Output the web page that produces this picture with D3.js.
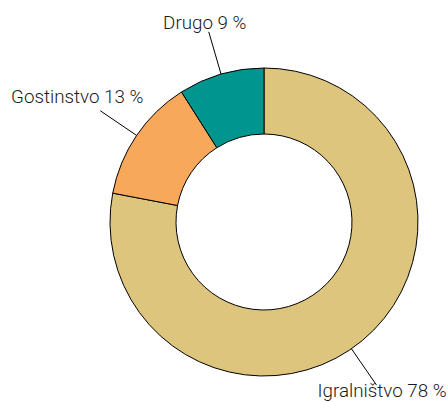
<!DOCTYPE html>
<html><head><meta charset="utf-8">
<script src="https://cdn.jsdelivr.net/npm/d3@7"></script>
<style>
html,body{margin:0;padding:0;background:#fff;}
svg{display:block;}
text{font-family:Roboto,"Liberation Sans",sans-serif;font-weight:300;font-size:18.8px;fill:#1a1a1a;}
</style></head>
<body>
<script>
const categories = ["Igralništvo", "Gostinstvo", "Drugo"];
const values = [78, 13, 9];
const colors = ["#DEC57E", "#F7A85A", "#009690"];
// label placement (style): leader angle offset (deg), label center offset from leader end
const labelAngleOffset = [5, 0, 0];
const labelDx = [5.6, -23, -4];
const labelDy = [12, -7.4, -3];

const W = 448, H = 402;
const cx = 264, cy = 222, rOuter = 154, rInner = 88, rLeader = 198;

const svg = d3.select("body").append("svg").attr("width", W).attr("height", H);
const g = svg.append("g").attr("transform", `translate(${cx},${cy})`);

const data = categories.map((c, i) => ({name: c, value: values[i], color: colors[i], i}));
const pie = d3.pie().value(d => d.value).sort(null);
const arc = d3.arc().innerRadius(rInner).outerRadius(rOuter);
const arcs = pie(data);

g.selectAll("path.slice").data(arcs).enter().append("path")
  .attr("class", "slice")
  .attr("d", arc)
  .attr("fill", d => d.data.color)
  .attr("stroke", "#000")
  .attr("stroke-width", 1);

const pt = (a, r) => [r * Math.sin(a), -r * Math.cos(a)];

arcs.forEach(d => {
  const a = (d.startAngle + d.endAngle) / 2 + labelAngleOffset[d.data.i] * Math.PI / 180;
  const p1 = pt(a, rOuter), p2 = pt(a, rLeader);
  g.append("line")
    .attr("x1", p1[0]).attr("y1", p1[1])
    .attr("x2", p2[0]).attr("y2", p2[1])
    .attr("stroke", "#000").attr("stroke-width", 1);
  g.append("text")
    .attr("x", p2[0] + labelDx[d.data.i])
    .attr("y", p2[1] + labelDy[d.data.i])
    .attr("text-anchor", "middle")
    .text(`${d.data.name} ${d.data.value} %`);
});
</script>
</body></html>
